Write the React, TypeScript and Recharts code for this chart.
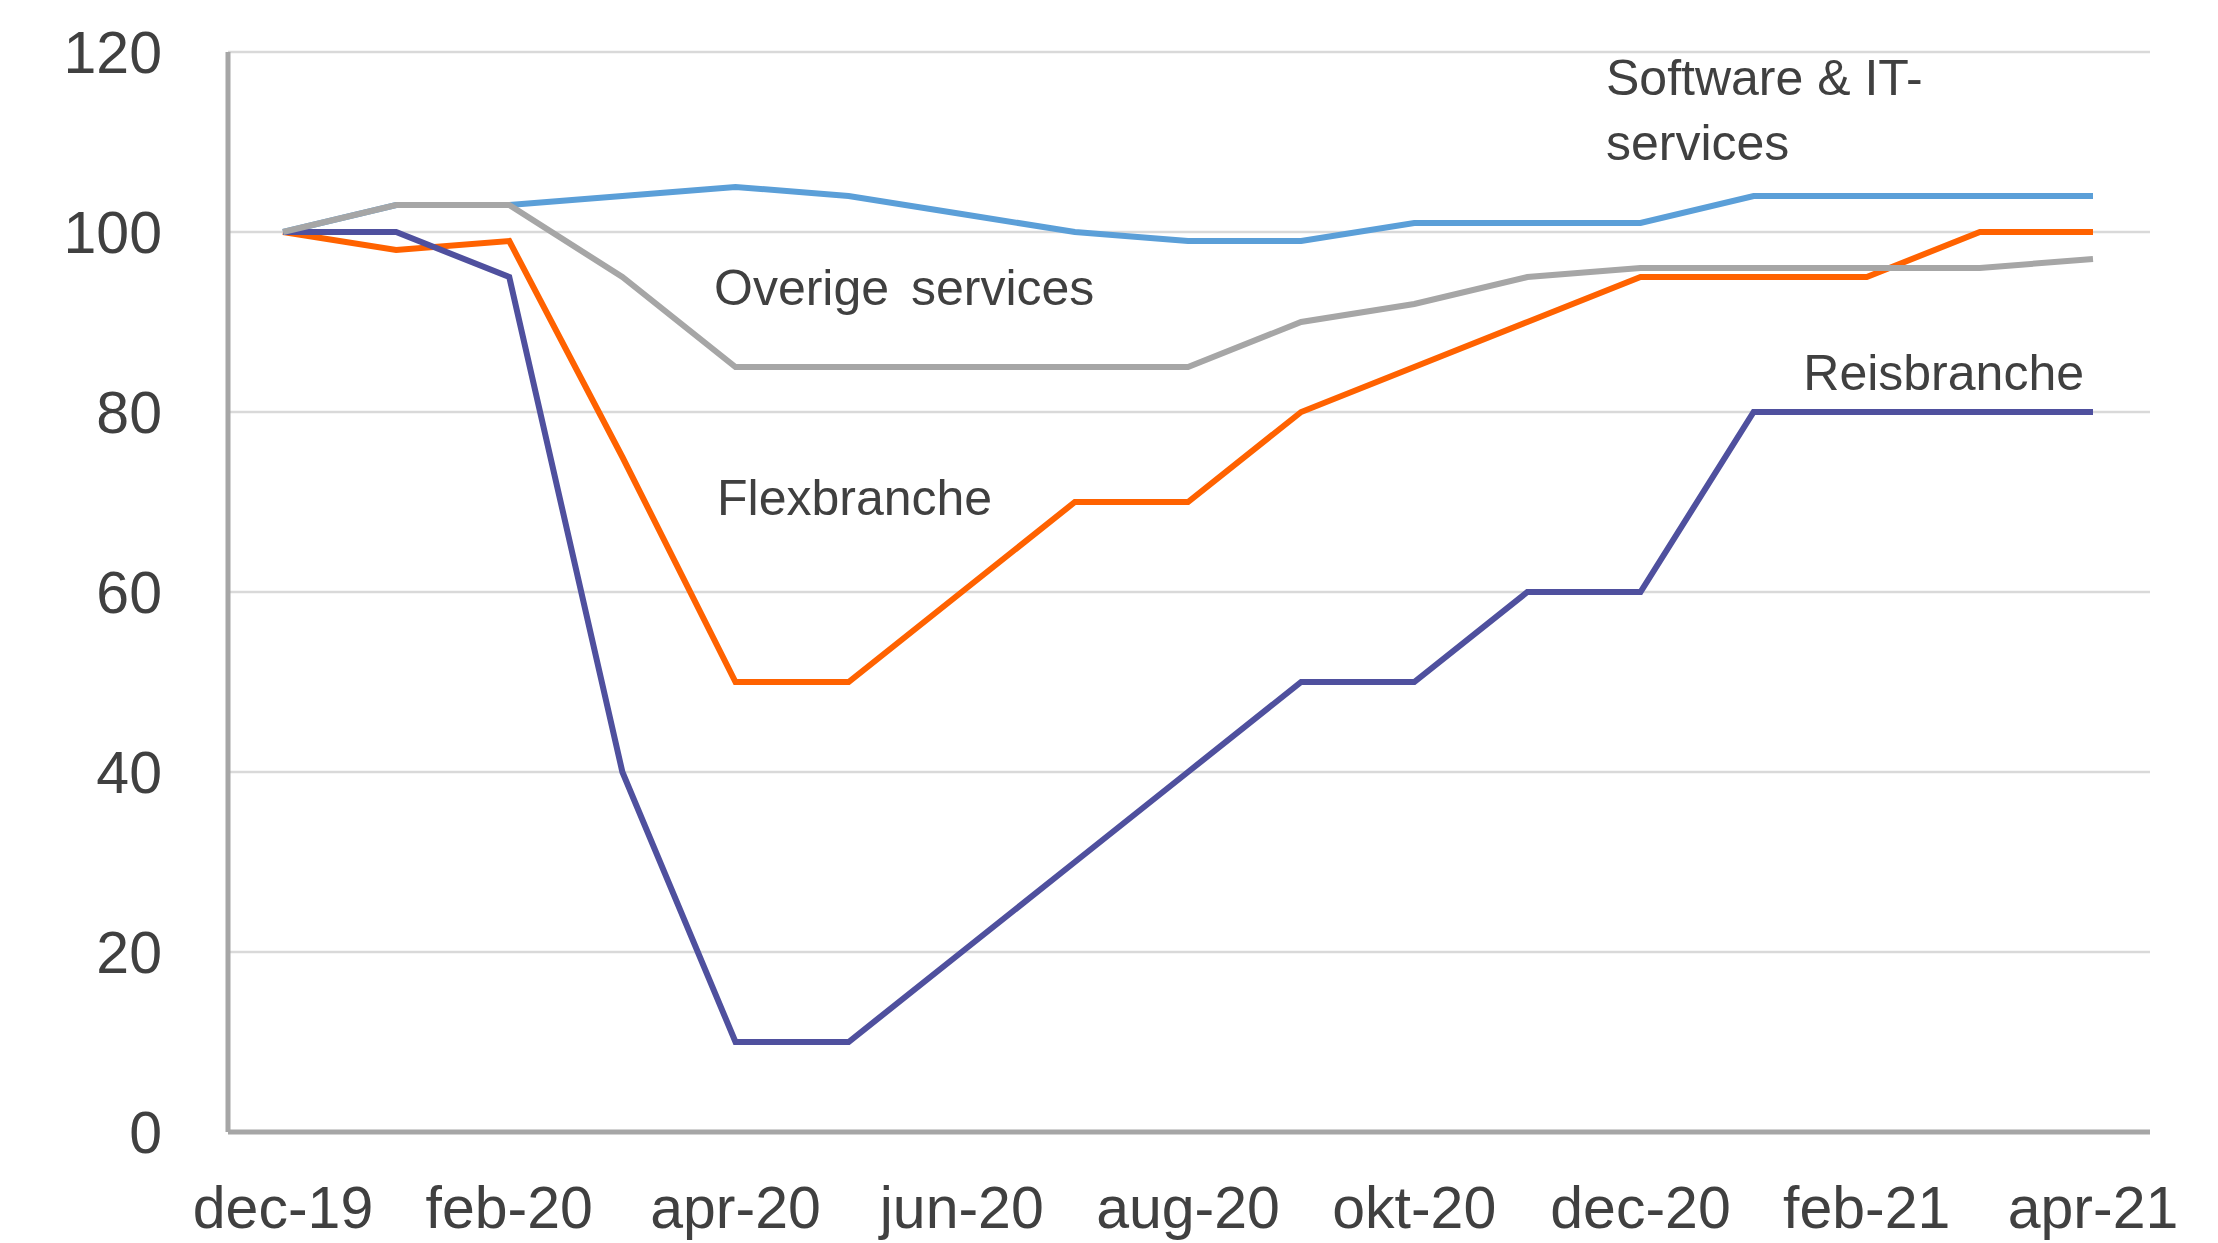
import { LineChart, Line, XAxis, YAxis, CartesianGrid, Customized } from 'recharts';

const months = [
  'dec-19', 'jan-20', 'feb-20', 'mrt-20', 'apr-20', 'mei-20', 'jun-20', 'jul-20', 'aug-20',
  'sep-20', 'okt-20', 'nov-20', 'dec-20', 'jan-21', 'feb-21', 'mrt-21', 'apr-21',
];
const software = [100, 103, 103, 104, 105, 104, 102, 100, 99, 99, 101, 101, 101, 104, 104, 104, 104];
const flex = [100, 98, 99, 75, 50, 50, 60, 70, 70, 80, 85, 90, 95, 95, 95, 100, 100];
const reis = [100, 100, 95, 40, 10, 10, 20, 30, 40, 50, 50, 60, 60, 80, 80, 80, 80];
const overige = [100, 103, 103, 95, 85, 85, 85, 85, 85, 90, 92, 95, 96, 96, 96, 96, 97];
const yTicks = [0, 20, 40, 60, 80, 100, 120];

const data = months.map((m, i) => ({
  month: m,
  software: software[i],
  flex: flex[i],
  reis: reis[i],
  overige: overige[i],
}));

const FONT = '"Liberation Sans", Arial, sans-serif';
const TEXT = '#404040';

const Labels = () => (
  <g fontFamily={FONT} fontSize={50} fill={TEXT}>
    <text x={1606} y={95}>Software &amp; IT-</text>
    <text x={1606} y={160}>services</text>
    <text x={714} y={305} style={{ wordSpacing: 8 }}>Overige services</text>
    <text x={717} y={515}>Flexbranche</text>
    <text x={2084} y={390} textAnchor="end">Reisbranche</text>
  </g>
);

export default function App() {
  return (
    <div style={{ position: 'absolute', left: 0, top: 0, background: '#fff' }}>
      <LineChart
        width={2218}
        height={1243}
        data={data}
        margin={{ top: 52, right: 68, bottom: 0, left: 0 }}
      >
        <CartesianGrid vertical={false} stroke="#d9d9d9" strokeWidth={2.5} />
        <XAxis
          dataKey="month"
          interval={1}
          height={111}
          padding={{ left: 55, right: 57 }}
          tickLine={false}
          tickSize={0}
          tickMargin={54}
          axisLine={{ stroke: '#a6a6a6', strokeWidth: 5 }}
          tick={{ fill: TEXT, fontSize: 59, fontFamily: FONT }}
        />
        <YAxis
          domain={[0, 120]}
          ticks={yTicks}
          width={228}
          tickLine={false}
          tickSize={0}
          tickMargin={66}
          axisLine={{ stroke: '#a6a6a6', strokeWidth: 5 }}
          tick={{ fill: TEXT, fontSize: 59, fontFamily: FONT }}
        />
        <Line type="linear" dataKey="software" stroke="#5b9fd8" strokeWidth={6} dot={false} isAnimationActive={false} />
        <Line type="linear" dataKey="flex" stroke="#ff6200" strokeWidth={6} dot={false} isAnimationActive={false} />
        <Line type="linear" dataKey="reis" stroke="#4f509e" strokeWidth={6} dot={false} isAnimationActive={false} />
        <Line type="linear" dataKey="overige" stroke="#a6a6a6" strokeWidth={6} dot={false} isAnimationActive={false} />
        <Customized component={Labels} />
      </LineChart>
    </div>
  );
}
